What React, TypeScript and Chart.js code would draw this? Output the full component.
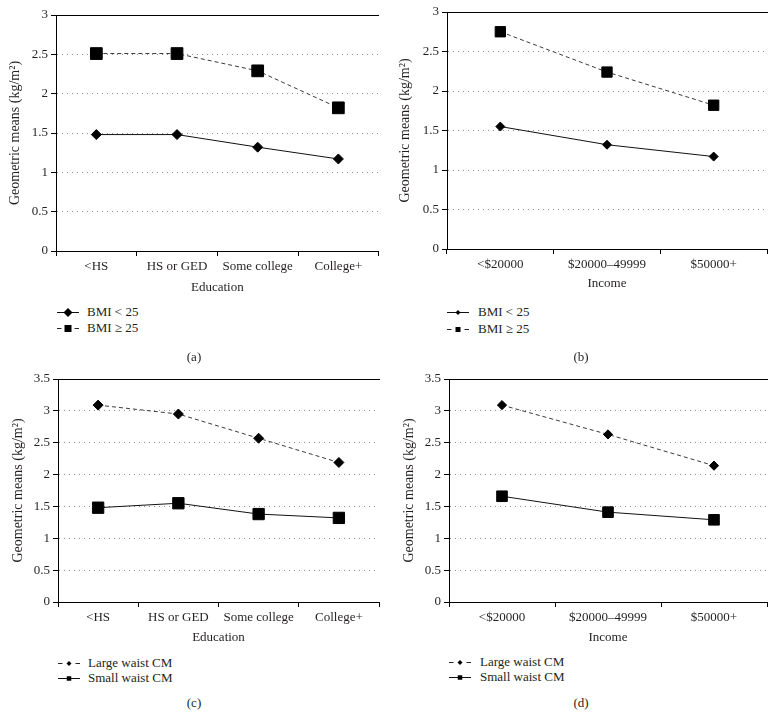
import React, { useEffect, useRef } from "react";
import { Chart, registerables } from "chart.js";

Chart.register(...registerables);

// ---------------- DATA ----------------
const educationCategories = ["<HS", "HS or GED", "Some college", "College+"];
const incomeCategories = ["<$20000", "$20000–49999", "$50000+"];

const bmiUnder25ByEducation = [1.48, 1.48, 1.32, 1.17];
const bmiOver25ByEducation = [2.51, 2.51, 2.29, 1.82];

const bmiUnder25ByIncome = [1.55, 1.32, 1.17];
const bmiOver25ByIncome = [2.75, 2.24, 1.82];

const largeWaistByEducation = [3.09, 2.95, 2.57, 2.19];
const smallWaistByEducation = [1.48, 1.55, 1.38, 1.32];

const largeWaistByIncome = [3.09, 2.63, 2.14];
const smallWaistByIncome = [1.66, 1.41, 1.29];

const yMaxTopRow = 3;
const yMaxBottomRow = 3.5;
const yStep = 0.5;

const yAxisTitle = "Geometric means (kg/m²)";
const seriesNames = {
  bmiUnder: "BMI < 25",
  bmiOver: "BMI ≥ 25",
  large: "Large waist CM",
  small: "Small waist CM",
};
const panelCaptions = ["(a)", "(b)", "(c)", "(d)"];

// ---------------- STYLE ----------------
const FONT = '"Liberation Serif", "DejaVu Serif", serif';
const TEXT = "#231f20";

type Series = {
  label: string;
  data: number[];
  dashed: boolean;
  marker: "square" | "diamond";
  radius: number;
};

type PanelProps = {
  left: number;
  top: number;
  width: number;
  height: number;
  area: { left: number; top: number; right: number; bottom: number };
  labels: string[];
  series: Series[];
  xTitle: string;
  yMax: number;
  yTitlePad: number;
  xTitlePad: number;
};

function Panel(p: PanelProps) {
  const ref = useRef<HTMLCanvasElement>(null);
  useEffect(() => {
    const chart = new Chart(ref.current as HTMLCanvasElement, {
      type: "line",
      data: {
        labels: p.labels,
        datasets: p.series.map((s) => ({
          label: s.label,
          data: s.data,
          xAxisID: "x",
          yAxisID: "y",
          borderColor: s.dashed ? "#3a3a3a" : "#111",
          borderWidth: 1,
          borderDash: s.dashed ? [4, 3] : [],
          pointStyle: s.marker === "square" ? "rect" : "rectRot",
          pointRadius: s.radius,
          pointHoverRadius: s.radius,
          pointBackgroundColor: "#000",
          pointBorderColor: "#000",
          pointBorderWidth: 1,
          fill: false,
          tension: 0,
        })),
      },
      options: {
        responsive: false,
        maintainAspectRatio: false,
        animation: false,
        devicePixelRatio: 1,
        events: [],
        layout: {
          padding: { top: p.area.top, right: p.width - p.area.right, bottom: 0, left: 0 },
        },
        plugins: { legend: { display: false }, tooltip: { enabled: false } },
        scales: {
          x: {
            type: "category",
            position: "bottom",
            offset: true,
            grid: {
              offset: true,
              drawOnChartArea: false,
              drawTicks: true,
              tickLength: 5,
              color: "#000",
              tickColor: "#000",
            },
            border: { display: true, color: "#000", width: 1 },
            ticks: {
              color: TEXT,
              font: { family: FONT, size: 13 },
              padding: 3,
              maxRotation: 0,
              autoSkip: false,
            },
            title: {
              display: true,
              text: p.xTitle,
              color: TEXT,
              font: { family: FONT, size: 13 },
              padding: { top: 0, bottom: p.xTitlePad },
            },
            afterFit: (s: any) => {
              s.height = p.height - p.area.bottom;
            },
          },
          top: {
            type: "category",
            position: "top",
            grid: { display: false },
            ticks: { display: false },
            border: { display: true, color: "#000", width: 1 },
            afterFit: (s: any) => {
              s.height = 0;
            },
          },
          y: {
            type: "linear",
            min: 0,
            max: p.yMax,
            ticks: {
              stepSize: yStep,
              color: TEXT,
              font: { family: FONT, size: 13 },
              padding: 3,
              callback: (v: any) => String(Number(v)),
            },
            grid: {
              color: "#8c8c8c",
              tickColor: "#000",
              tickLength: 5,
              drawTicks: true,
              lineWidth: 1,
              tickBorderDash: [],
            },
            border: { display: true, color: "#000", width: 1, dash: [1, 4] },
            title: {
              display: true,
              text: yAxisTitle,
              color: TEXT,
              font: { family: FONT, size: 14 },
              padding: { top: p.yTitlePad, bottom: 0 },
            },
            afterFit: (s: any) => {
              s.width = p.area.left;
            },
          },
        },
      } as any,
    });
    return () => chart.destroy();
  }, []);
  return (
    <canvas
      ref={ref}
      width={p.width}
      height={p.height}
      style={{ position: "absolute", left: p.left, top: p.top, width: p.width, height: p.height }}
    />
  );
}

function Marker({ kind, cx, size }: { kind: "square" | "diamond"; cx: number; size: number }) {
  if (kind === "square") {
    return <rect x={cx - size / 2} y={6.5 - size / 2} width={size} height={size} fill="#000" />;
  }
  const h = size / 2;
  return <polygon points={`${cx - h},6.5 ${cx},${6.5 - h} ${cx + h},6.5 ${cx},${6.5 + h}`} fill="#000" />;
}

function LegendRow({
  x,
  y,
  textX,
  dashed,
  marker,
  size,
  text,
}: {
  x: number;
  y: number;
  textX: number;
  dashed: boolean;
  marker: "square" | "diamond";
  size: number;
  text: string;
}) {
  return (
    <>
      <svg width={24} height={13} style={{ position: "absolute", left: x, top: y - 6 }}>
        {dashed ? (
          <>
            <line x1={0} y1={6.5} x2={4.5} y2={6.5} stroke="#222" strokeWidth={1} />
            <line x1={17.5} y1={6.5} x2={22} y2={6.5} stroke="#222" strokeWidth={1} />
          </>
        ) : (
          <line x1={0} y1={6.5} x2={22} y2={6.5} stroke="#111" strokeWidth={1} />
        )}
        <Marker kind={marker} cx={11} size={size} />
      </svg>
      <div
        style={{
          position: "absolute",
          left: textX,
          top: y - 8,
          height: 16,
          lineHeight: "16px",
          fontFamily: FONT,
          fontSize: 13,
          color: TEXT,
          whiteSpace: "nowrap",
        }}
      >
        {text}
      </div>
    </>
  );
}

function Caption({ cx, cy, text }: { cx: number; cy: number; text: string }) {
  return (
    <div
      style={{
        position: "absolute",
        left: cx - 20,
        width: 40,
        top: cy - 8,
        lineHeight: "16px",
        textAlign: "center",
        fontFamily: FONT,
        fontSize: 13,
        color: TEXT,
      }}
    >
      {text}
    </div>
  );
}

export default function App() {
  return (
    <>
      <style>{"body{margin:0;background:#fff}"}</style>
      <div style={{ position: "relative", width: 776, height: 718, background: "#fff", overflow: "hidden" }}>
        <Panel
          left={0}
          top={0}
          width={388}
          height={300}
          area={{ left: 56, top: 15, right: 381, bottom: 251 }}
          labels={educationCategories}
          series={[
            { label: seriesNames.bmiUnder, data: bmiUnder25ByEducation, dashed: false, marker: "diamond", radius: 5 },
            { label: seriesNames.bmiOver, data: bmiOver25ByEducation, dashed: true, marker: "square", radius: 8.3 },
          ]}
          xTitle="Education"
          yMax={yMaxTopRow}
          yTitlePad={6.6}
          xTitlePad={5}
        />
        <Panel
          left={388}
          top={0}
          width={388}
          height={300}
          area={{ left: 59, top: 12, right: 379, bottom: 249 }}
          labels={incomeCategories}
          series={[
            { label: seriesNames.bmiUnder, data: bmiUnder25ByIncome, dashed: false, marker: "diamond", radius: 4.5 },
            { label: seriesNames.bmiOver, data: bmiOver25ByIncome, dashed: true, marker: "square", radius: 7.3 },
          ]}
          xTitle="Income"
          yMax={yMaxTopRow}
          yTitlePad={8.6}
          xTitlePad={9}
        />
        <Panel
          left={0}
          top={360}
          width={388}
          height={290}
          area={{ left: 58, top: 19, right: 381, bottom: 242 }}
          labels={educationCategories}
          series={[
            { label: seriesNames.large, data: largeWaistByEducation, dashed: true, marker: "diamond", radius: 5 },
            { label: seriesNames.small, data: smallWaistByEducation, dashed: false, marker: "square", radius: 8 },
          ]}
          xTitle="Education"
          yMax={yMaxBottomRow}
          yTitlePad={9.6}
          xTitlePad={5}
        />
        <Panel
          left={388}
          top={360}
          width={388}
          height={290}
          area={{ left: 61, top: 19, right: 379, bottom: 242 }}
          labels={incomeCategories}
          series={[
            { label: seriesNames.large, data: largeWaistByIncome, dashed: true, marker: "diamond", radius: 4.6 },
            { label: seriesNames.small, data: smallWaistByIncome, dashed: false, marker: "square", radius: 7.5 },
          ]}
          xTitle="Income"
          yMax={yMaxBottomRow}
          yTitlePad={12.6}
          xTitlePad={5}
        />

        <LegendRow x={57} y={312} textX={87} dashed={false} marker="diamond" size={9} text={seriesNames.bmiUnder} />
        <LegendRow x={57} y={328} textX={87} dashed={true} marker="square" size={7} text={seriesNames.bmiOver} />
        <LegendRow x={447} y={312} textX={478} dashed={false} marker="diamond" size={5} text={seriesNames.bmiUnder} />
        <LegendRow x={447} y={329} textX={478} dashed={true} marker="square" size={5} text={seriesNames.bmiOver} />
        <LegendRow x={58} y={663} textX={88} dashed={true} marker="diamond" size={5} text={seriesNames.large} />
        <LegendRow x={58} y={678} textX={88} dashed={false} marker="square" size={4.5} text={seriesNames.small} />
        <LegendRow x={449} y={662} textX={480} dashed={true} marker="diamond" size={5} text={seriesNames.large} />
        <LegendRow x={449} y={677} textX={480} dashed={false} marker="square" size={4.5} text={seriesNames.small} />

        <Caption cx={194} cy={357} text={panelCaptions[0]} />
        <Caption cx={581} cy={357} text={panelCaptions[1]} />
        <Caption cx={194} cy={703} text={panelCaptions[2]} />
        <Caption cx={581} cy={703} text={panelCaptions[3]} />
      </div>
    </>
  );
}
